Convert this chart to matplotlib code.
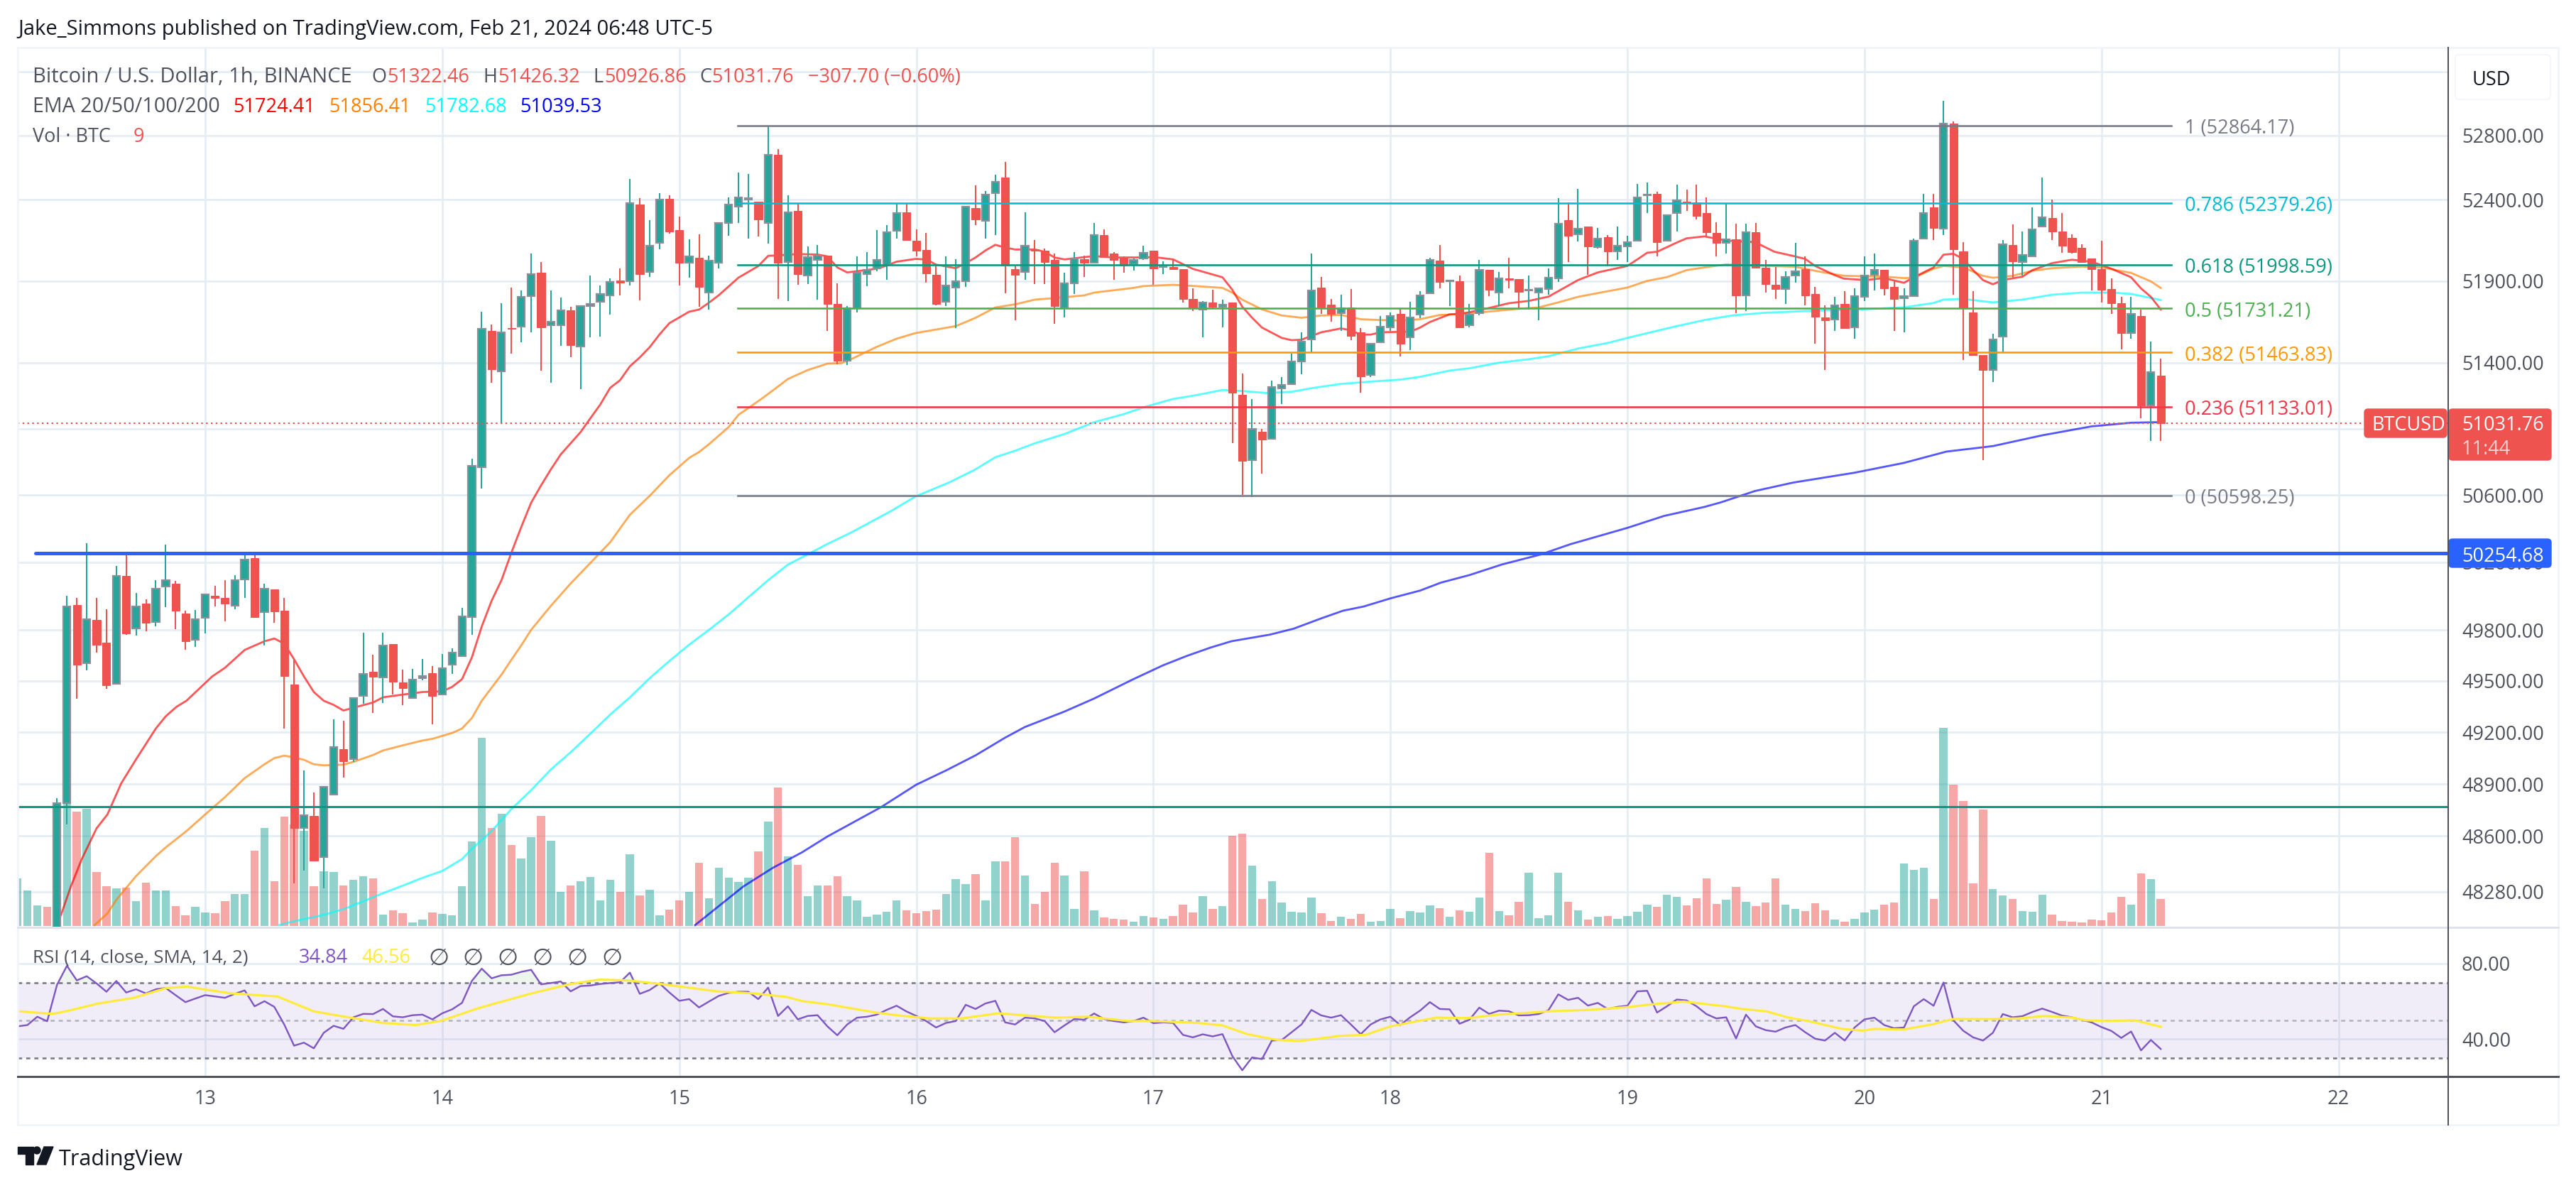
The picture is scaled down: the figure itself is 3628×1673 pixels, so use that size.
import numpy as np
import matplotlib
matplotlib.use('Agg')
import matplotlib.pyplot as plt
from matplotlib.patches import FancyBboxPatch, Polygon, Circle, Rectangle
from matplotlib.ticker import NullLocator

plt.rcParams['font.family'] = ['Open Sans', 'DejaVu Sans']

# hours counted from Feb 13 00:00, first candle is Feb 12 05:00
first_hour = -19
opens = [47300,47420,47530,47750,47700,48790,49948,49603,49857,49725,49482,50118,49808,49956,49847,50056,50072,49895,49741,
 49870,50000,49990,49942,50098,50225,49904,50040,49914,49477,48646,48716,48477,48838,49100,49046,49412,49553,49520,49716,49492,49400,49516,49544,
 49422,49595,49646,49876,50768,51595,51347,51611,51620,51807,51950,51627,51630,51720,51500,51747,51770,51810,51902,51897,52372,51955,52135,52407,
 52213,52010,52040,51828,52010,52258,52360,52400,52387,52258,52680,52015,52330,51932,52030,52057,51760,51410,51734,51942,51975,51997,52209,52324,
 52148,52090,51936,51773,51859,51897,52351,52270,52442,52539,51971,51955,52095,52088,52028,51734,51883,52032,52013,52183,52067,52044,52001,52036,
 52084,51986,51987,51971,51790,51725,51768,51742,51768,51204,50811,50983,50938,51245,51269,51409,51540,51859,51754,51700,51737,51585,51325,51525,
 51616,51698,51554,51695,51825,52025,51897,51897,51628,51703,51970,51828,51915,51910,51840,51828,51850,51917,52275,52188,52235,52108,52169,52082,
 52113,52146,52430,52438,52146,52317,52391,52386,52317,52197,52136,52157,51811,52200,51980,51878,51852,51931,51973,51820,51676,51662,51757,51615,
 51802,51936,51970,51862,51793,51807,52162,52353,52223,52877,52080,51705,51447,51355,51557,52122,52014,52049,52233,52289,52204,52165,52103,52039,
 51973,51850,51763,51582,51683,51140,51322.46]
highs = [47480,47560,47700,47780,48820,50000,49990,50315,49990,49920,50178,50240,50020,49980,50095,50305,50090,49915,49918,
 50009,50060,50095,50125,50260,50240,50072,50040,49990,49627,48980,48850,48882,49275,49268,49400,49785,49655,49785,49716,49568,49572,49630,49587,
 49658,49690,49930,50818,51712,51634,51765,51860,51843,52070,52017,51843,51797,51743,51747,51935,51873,51916,51975,52530,52412,52275,52442,52428,
 52296,52157,52185,52055,52258,52415,52568,52560,52387,52862,52717,52430,52377,52110,52120,52057,51885,51745,52053,52075,52212,52242,52377,52377,
 52218,52197,52004,52053,52032,52357,52492,52455,52556,52634,51997,52325,52150,52100,52070,51952,52079,52056,52259,52218,52079,52053,52039,52118,
 52084,52022,52032,51971,51853,51777,51845,51785,51768,51335,51180,51000,51290,51312,51455,51583,52070,51926,51790,51814,51849,51610,51517,51683,
 51708,51729,51771,51837,52044,52122,51903,51935,51760,52027,51970,51953,52044,51910,51935,51854,51975,52409,52386,52466,52235,52226,52183,52235,
 52180,52500,52508,52452,52306,52494,52464,52495,52417,52261,52379,52252,52251,52258,52027,51984,51960,52134,52053,51862,51751,51802,51837,51854,
 52053,52070,51970,51905,51854,52162,52438,52438,53018,52890,52137,51837,51447,51578,52150,52247,52205,52352,52540,52400,52317,52186,52125,52039,
 52148,51917,51802,51802,51722,51530,51426.32]
lows = [47250,47380,47500,47600,47650,48665,49395,49562,49668,49455,49480,49770,49766,49790,49822,49936,49806,49684,49700,
 49780,49940,49850,49920,49990,49877,49710,49843,49220,48327,48403,48454,48300,48838,48938,49026,49368,49314,49370,49420,49360,49400,49505,49248,
 49422,49540,49646,49770,50640,51278,51030,51455,51525,51587,51352,51278,51502,51432,51240,51556,51560,51692,51810,51870,51780,51925,52095,52190,
 51874,51920,51740,51724,51975,52180,52258,52160,52175,52130,51787,51775,51878,51880,51783,51595,51390,51385,51708,51866,51957,51905,52160,52153,
 52053,51888,51751,51746,51611,51862,52244,52162,52183,51825,51660,51905,51880,51880,51638,51678,51820,51926,52013,52047,51908,51952,51962,52030,
 51876,51940,51971,51766,51715,51554,51732,51614,50912,50600,50590,50730,50938,51147,51269,51328,51463,51698,51648,51592,51537,51216,51312,51525,
 51592,51438,51477,51670,51825,51854,51746,51614,51617,51691,51806,51746,51854,51722,51725,51660,51816,51893,52018,52143,51936,52100,51990,52027,
 52014,52146,52317,52053,52146,52205,52330,52280,52174,52053,52070,51700,51713,51980,51828,51790,51760,51888,51751,51515,51356,51595,51613,51545,
 51776,51840,51811,51593,51585,51807,52162,52153,52183,51816,51417,51445,50810,51283,51463,51914,51935,52049,52233,52153,52073,52067,52018,51840,
 51768,51698,51480,51545,51065,50925,50926.86]
closes = [47420,47530,47680,47650,48790,49940,49597,49865,49711,49476,50120,49780,49940,49840,50045,50092,49915,49735,49865,
 50009,49990,49955,50092,50218,49877,50042,49907,49530,48646,48720,48458,48882,49114,49030,49400,49540,49525,49708,49494,49460,49508,49530,49412,
 49573,49666,49880,50776,51607,51358,51587,51606,51804,51941,51614,51650,51720,51507,51747,51760,51818,51894,51890,52380,51940,52118,52402,52205,
 52010,52050,51862,52025,52258,52372,52414,52412,52278,52680,52010,52322,51940,52045,52057,51760,51410,51732,51952,51970,52027,52198,52317,52153,
 52087,51945,51757,51874,51897,52357,52278,52435,52514,51995,51936,52117,52087,52018,51746,51886,52036,52011,52183,52047,52027,51994,52027,52073,
 51975,51991,51971,51790,51732,51766,51741,51756,51216,50808,51000,50934,51252,51264,51407,51527,51842,51739,51698,51734,51563,51316,51517,51620,
 51684,51515,51674,51813,52028,51892,51903,51614,51695,51966,51845,51914,51908,51832,51845,51854,51920,52251,52178,52221,52112,52160,52080,52115,
 52139,52414,52433,52138,52306,52396,52386,52301,52198,52134,52157,51811,52202,51980,51880,51848,51926,51957,51811,51680,51660,51751,51613,51805,
 51931,51970,51854,51788,51805,52148,52317,52227,52877,52095,51731,51445,51355,51540,52126,52022,52060,52216,52292,52205,52117,52079,52018,51971,
 51845,51765,51580,51698,51140,51343,51031.76]
volumes = [183,137,79,74,100,476,440,452,208,153,145,148,96,167,137,137,76,41,74,
 52,49,96,123,123,290,377,172,421,390,366,153,210,208,156,178,191,183,44,60,50,13,24,52,
 46,41,153,325,725,377,431,312,260,342,424,328,131,156,172,189,98,178,131,276,117,139,41,63,
 98,131,243,106,224,186,169,186,287,402,533,268,235,115,156,156,191,115,98,35,44,55,98,60,
 49,57,63,123,180,161,200,98,249,249,342,194,85,131,243,194,65,210,60,33,27,24,16,38,
 33,27,38,82,52,115,65,76,347,356,232,103,172,90,54,52,109,49,19,35,27,46,16,19,
 65,30,57,52,79,68,35,60,54,109,282,57,41,93,205,30,41,205,93,60,24,35,38,27,
 38,54,82,74,120,112,79,106,183,85,101,150,93,76,90,183,82,65,57,87,60,24,16,27,
 52,63,82,90,241,216,224,104,763,544,481,164,449,142,117,104,57,54,120,44,19,16,13,24,
 22,52,112,82,202,180,104]

ema20_t = [-14.6,-13.6,-12.5,-11,-9.9,-8.5,-7,-5,-4,-2.9,-1.9,0.7,2,4,6,7,8,9,10,11,12,13,14,15,17,18,20,22,24,25,26,27,28,29,30,31,32,33,34,35,36,38,39,40,41,42,43,44,45,46,47,49,50,51,52,53,54,56,57,58,60,62,63,64,65,67.9,68.9,70,71.9,73,74,76,77,78,79,80,81,82,84,85,86,87,88,90,92,95,96,98,100,103,104,105,106,107,109,110,111,112,113,115,116,117,118,119,121,122,123,124,126,127,128,130,132,134,136,137,139,141,144,145,146,147,149,150,151.8,154,156.9,158.9,160.8,162,163,165,165.9,168.1,170,172,173,175,176,177,178,179,180,181,182,184,185,187,189,191,193,195,196,197,198]
ema20 = [48148,48311,48467,48644,48724,48904,49043,49222,49293,49349,49384,49526,49577,49682,49733,49749,49719,49627,49526,49435,49384,49360,49327,49343,49374,49404,49420,49435,49439,49465,49510,49638,49820,49972,50094,50257,50410,50555,50658,50755,50845,50979,51063,51146,51247,51293,51378,51432,51494,51572,51641,51711,51724,51766,51812,51866,51920,51991,52054,52057,52065,52062,52051,51983,51952,51974,51992,52018,52035,52032,52000,51978,52009,52044,52087,52122,52105,52093,52093,52079,52044,52032,52039,52053,52044,52044,52047,52032,51974,51922,51845,51742,51674,51614,51551,51537,51540,51563,51585,51609,51597,51571,51571,51585,51588,51588,51614,51648,51695,51698,51708,51734,51763,51777,51803,51837,51905,51952,51992,52032,52073,52079,52136,52162,52174,52148,52139,52079,52053,52035,51992,51935,51914,51905,51917,51888,51922,51983,52061,52067,52035,51966,51905,51879,51905,51926,51966,52009,52030,52018,51975,51922,51854,51802,51724.41]
ema50_t = [-11.2,-9.9,-9,-8,-7,-5,-4,-1.9,0,2,4,6,7,8,9,10,11,12,14,15,17,18,20,22,23,25,26,27,28,30,31,32,33,35,37,39,41,43,45,47,49,50,51,53,54,55,56.5,58,59,61,63,64.4,65.4,67.9,70,71.9,74,76,77,78,80,82,84,86,89,90,94,95,98,100,103,104,105,107,109,111,113,115,117,119,121,123,125,127,130,133,135,137,139,141,144,146,148,150,151.8,154,156,158,161,163,165,166,170,172,173,175,176,178,179,180,181,183,185,187,190,192,195,197,198]
ema50 = [48090,48157,48234,48302,48370,48484,48534,48628,48724,48824,48934,49014,49050,49064,49054,49040,49014,49008,49012,49028,49068,49094,49124,49152,49162,49196,49222,49283,49384,49537,49624,49709,49800,49942,50074,50196,50319,50483,50596,50720,50824,50859,50906,51010,51084,51125,51188,51255,51301,51355,51394,51397,51421,51494,51546,51580,51602,51623,51648,51674,51737,51756,51785,51794,51811,51828,51857,51868,51876,51869,51857,51828,51785,51725,51688,51674,51688,51691,51665,51660,51657,51665,51691,51695,51712,51729,51737,51768,51802,51825,51859,51900,51923,51966,51983,52001,51996,51992,51987,51962,51940,51931,51926,51917,51919,51975,51992,51983,51957,51931,51919,51931,51962,51978,51988,51983,51949,51897,51856.41]
ema100_t = [7.5,8.4,10,12,14,16,18,20,22,24,26,27,29,31,33,35,37,39,41,43,45,47,49,51,53,55,57,59,61,63,65.4,69.4,71.9,75.3,77.9,80,82,84,87,90,93,95,98,100,103,105,107.4,110,112,115,118,121,123,126,128,131,134,136,139,142,144,146,149,151.8,154.6,158,163,168,172,174.9,176,178,181,184,187,190,193,195,198]
ema100 = [48090,48104,48124,48148,48181,48226,48272,48315,48360,48399,48467,48526,48628,48755,48864,48984,49084,49192,49303,49404,49516,49617,49713,49800,49891,49993,50094,50186,50247,50309,50377,50504,50592,50676,50752,50828,50867,50912,50968,51039,51088,51129,51180,51199,51234,51228,51216,51223,51245,51271,51285,51297,51314,51352,51366,51400,51421,51439,51486,51520,51551,51580,51623,51660,51688,51705,51717,51726,51738,51763,51785,51789,51768,51785,51815,51828,51828,51820,51782.68]
ema200_t = [49.6,54.5,57.5,60.4,63,68.4,72,75,78,81,83,87,90,94,97,99.4,101.8,103.9,107.8,110.2,113.1,115.2,117.3,120,123,125.1,128,131.3,135.2,138.2,144,147.7,151.8,153.5,156.9,160.8,167,172,176.3,181,186,191,195,198]
ema200 = [48090,48311,48418,48505,48597,48765,48896,48978,49066,49169,49231,49321,49397,49511,49592,49647,49696,49733,49772,49807,49870,49913,49938,49986,50032,50079,50124,50187,50246,50307,50405,50476,50530,50558,50625,50676,50735,50794,50862,50895,50960,51014,51036,51039.53]

rsi_values = [46.8,47.5,51.9,49.5,68.8,78.8,71.1,73.3,69.5,65.1,70.8,64.7,66.4,64.2,66.4,67.1,63.3,59.6,61.5,
 63.3,62.6,61.9,64.0,65.8,57.4,60.1,57.1,47.8,36.6,38.2,35.2,43.4,47.1,45.5,51.6,53.4,53.3,56.0,52.1,51.6,52.7,53.0,50.5,53.7,
 55.8,59.2,70.8,77.3,72.2,73.8,74.1,75.6,76.7,69.0,69.7,70.5,65.3,68.1,68.4,69.2,69.7,70.1,75.2,64.0,66.0,69.5,64.7,60.3,
 61.2,56.8,59.9,62.9,64.5,65.1,65.1,61.2,67.3,52.3,57.4,50.5,52.3,52.7,46.8,42.1,47.8,51.4,51.9,53.0,55.5,57.7,54.7,52.3,
 49.6,46.2,48.6,49.6,58.2,56.0,58.9,60.3,48.9,47.8,51.4,51.0,49.6,43.7,47.3,50.7,50.3,53.6,50.7,49.6,48.9,49.6,51.4,48.5,
 48.9,48.6,42.3,41.0,42.6,41.5,42.7,31.1,23.6,30.4,29.5,39.3,
 39.6,43.7,47.8,55.5,52.6,51.4,52.7,47.8,42.7,47.8,50.5,51.9,47.5,51.6,55.1,59.6,56.0,55.8,48.2,50.3,56.7,53.4,55.1,54.8,
 52.6,52.7,53.3,55.3,63.7,60.8,61.9,57.8,59.2,56.0,57.1,57.7,65.3,65.6,54.1,57.4,61.0,60.5,57.4,53.3,51.0,51.6,40.4,53.0,
 46.8,44.8,44.0,46.2,47.5,43.7,40.3,39.3,43.4,39.3,46.2,50.5,51.4,47.5,45.8,46.2,57.4,61.2,57.7,70.0,50.0,44.5,41.0,39.3,
 43.4,53.3,51.6,52.2,54.4,56.2,54.4,52.5,51.6,50.3,48.9,46.4,44.4,40.7,44.1,34.1,39.6,34.84]
rsi_ma_t = [-19,-17,-15.4,-13.8,-10.9,-7.2,-3.9,-1.8,0.3,2.7,7.3,8.9,11,14.7,18,21.3,23.8,27.9,32.9,37,39.9,42.8,46.1,51.8,55.6,58.9,60.5,63,67.9,70,73.3,76.6,80.3,86.1,89.4,93.5,96,100.5,103,105.5,108.6,110.8,114.9,117.5,120,124.6,127.9,130.9,136.3,140.1,144.3,146,149.7,153.9,155.6,158.1,160.2,162.3,165.7,167.8,169,171.9,174.9,177,180.8,183.7,186.2,189.1,190.4,192.5,195.4,198]
rsi_ma = [54.8,54.0,53.4,55.1,58.8,61.9,67.1,67.8,66.0,64.2,62.6,59.2,54.7,51.4,48.6,47.5,49.6,56.8,64.0,69.2,71.5,71.1,69.2,65.3,64.2,62.3,60.1,58.5,54.1,52.7,51.0,51.0,53.7,51.4,51.9,49.6,49.6,48.6,47.3,42.7,39.6,39.0,41.8,42.3,46.8,51.4,51.2,53.0,54.8,55.5,57.1,58.2,59.9,57.4,56.0,54.7,51.6,49.6,45.5,44.5,45.5,45.1,47.9,50.7,50.7,51.0,52.3,51.4,50.0,49.6,50.0,46.56]

fib_levels = ['1','0.786','0.618','0.5','0.382','0.236','0']
fib_prices = [52864.17,52379.26,51998.59,51731.21,51463.83,51133.01,50598.25]
fib_colors = ['#787B86','#00BCD4','#089981','#4CAF50','#FF9800','#F23645','#787B86']
price_ticks = [53200,52800,52400,51900,51400,51000,50600,50200,49800,49500,49200,48900,48600,48280]
hidden_ticks = [53200,51000]  # covered by the USD box and the price tag
day_labels = ['13','14','15','16','17','18','19','20','21','22']
day_hours = [0,24,48,72,96,120,144,168,192,216]
last_close = 51031.76
level_blue = 50254.68
level_green = 48770
rsi_bands = [70,50,30]

GREEN = '#26A69A'
RED = '#EF5350'
GRID = '#E4EDF3'
TEXT = '#50535E'
FS = 19.5
W, H = 3628, 1673
px = 0.72  # one pixel in points at dpi 100

# pane geometry in pixels
LEFT, RIGHT, PANE_TOP, PANE_MID, PANE_BOT = 25, 3448, 67, 1306, 1516
HOUR_PX = 13.91
xlim = ((LEFT - 289) / HOUR_PX, (RIGHT - 289) / HOUR_PX)
vol_lim = (-5.5, 3384)

def pane(y0, y1, z=1):
    a = fig.add_axes([LEFT / W, 1 - y1 / H, (RIGHT - LEFT) / W, (y1 - y0) / H], zorder=z)
    a.set_xlim(xlim)
    a.patch.set_alpha(0)
    return a

def label(x, y, s, color=TEXT, size=FS, **kw):
    return ov.text(x, y, s, color=color, fontsize=size, va='center_baseline', **kw)

fig = plt.figure(figsize=(W / 100, H / 100), dpi=100, facecolor='white')

hours = np.arange(len(opens)) + first_hour
o, h, l, c = map(np.array, (opens, highs, lows, closes))
up = c >= o
top, bot = np.maximum(o, c), np.minimum(o, c)

# bottom layer: grid and price axis
ax = pane(PANE_TOP, PANE_MID, 1)
ax.set_yscale('log')
ax.set_ylim(48077, 53353)
ax.set_yticks(price_ticks)
ax.set_yticklabels(['' if p in hidden_ticks else f'{p:.2f}' for p in price_ticks])
ax.yaxis.set_minor_locator(NullLocator())
ax.yaxis.tick_right()
ax.tick_params(axis='y', which='major', length=0, pad=19 * px, labelsize=FS, labelcolor=TEXT)
ax.set_xticks(day_hours)
ax.tick_params(axis='x', length=0, labelbottom=False)
ax.grid(True, color=GRID, linewidth=2.6 * px)
ax.set_axisbelow(True)
for s in ax.spines.values():
    s.set_visible(False)

# volume layer
ax_vol = pane(PANE_TOP, PANE_MID, 2)
ax_vol.set_ylim(vol_lim)
ax_vol.axis('off')
ax_vol.bar(hours, volumes, width=0.82, color=[GREEN if u else RED for u in up], alpha=0.5, linewidth=0)

# candles and indicators
ax_top = pane(PANE_TOP, PANE_MID, 3)
ax_top.set_yscale('log')
ax_top.set_ylim(ax.get_ylim())
ax_top.axis('off')
for xs, ys, col in ((ema200_t, ema200, '#0000FF'), (ema100_t, ema100, '#00FFFF'),
                    (ema50_t, ema50, '#FF7F00'), (ema20_t, ema20, '#FF0000')):
    ax_top.plot(xs, ys, color=col, alpha=0.66, linewidth=2.8 * px, zorder=2)
ax_top.vlines(hours, l, h, colors=[GREEN if u else RED for u in up], linewidth=2 * px, zorder=3)
ax_top.bar(hours[up], (top - bot)[up], bottom=bot[up], width=0.74, color=GREEN,
           edgecolor='#8B9098', linewidth=2.2 * px, zorder=4)
ax_top.bar(hours[~up], (top - bot)[~up], bottom=bot[~up], width=0.8, color=RED,
           edgecolor=RED, linewidth=1 * px, zorder=4)
ax_top.axhline(last_close, color=RED, linestyle=(0, (1.2, 2.2)), linewidth=2 * px, zorder=5)
ax_top.axhline(level_green, color='#089981', linewidth=3 * px, zorder=5)
ax_top.plot([(50 - 289) / HOUR_PX, xlim[1]], [level_blue, level_blue], color='#2962FF',
            linewidth=5 * px, solid_capstyle='round', zorder=5)
for p, col in zip(fib_prices, fib_colors):
    ax_top.plot([53.9, 199.1], [p, p], color=col, linewidth=2.6 * px, zorder=5)

# RSI pane
ax_rsi = pane(PANE_MID, PANE_BOT, 1)
ax_rsi.set_ylim(20.3, 99.1)
ax_rsi.set_yticks([40, 80])
ax_rsi.set_yticklabels(['40.00', '80.00'])
ax_rsi.yaxis.tick_right()
ax_rsi.tick_params(axis='y', length=0, pad=19 * px, labelsize=FS, labelcolor=TEXT)
ax_rsi.set_xticks(day_hours)
ax_rsi.set_xticklabels(day_labels)
ax_rsi.tick_params(axis='x', length=0, pad=18 * px, labelsize=FS, labelcolor=TEXT)
ax_rsi.grid(True, color=GRID, linewidth=2.6 * px)
ax_rsi.set_axisbelow(True)
for s in ax_rsi.spines.values():
    s.set_visible(False)
ax_rsi.axhspan(rsi_bands[2], rsi_bands[0], color='#7E57C2', alpha=0.1, linewidth=0)
for b, col in zip(rsi_bands, ('#787B86', '#B2B5BE', '#787B86')):
    ax_rsi.axhline(b, color=col, linestyle=(0, (2.2, 2.2)), linewidth=2.6 * px)
rsi_hours = np.arange(len(rsi_values)) + first_hour
rsi_arr = np.array(rsi_values)
ax_rsi.fill_between(rsi_hours, 70, rsi_arr, where=rsi_arr > 70, interpolate=True,
                    color='#4CAF50', alpha=0.1, linewidth=0)
ax_rsi.plot(rsi_hours, rsi_values, color='#7E57C2', linewidth=2.4 * px)
ax_rsi.plot(rsi_ma_t, rsi_ma, color='#FFEB3B', linewidth=3.2 * px)

# overlay in pixels for frame, legends and price tags
ov = fig.add_axes([0, 0, 1, 1], zorder=10)
ov.set_xlim(0, W)
ov.set_ylim(H, 0)
ov.axis('off')
ov.patch.set_alpha(0)

ov.add_patch(Rectangle((LEFT, PANE_TOP), 3603 - LEFT, 1584 - PANE_TOP, fill=False, edgecolor='#F0F3FA', linewidth=2.6 * px))
ov.plot([LEFT, 3603], [PANE_MID, PANE_MID], color='#E0E3EB', linewidth=3 * px)
ov.plot([LEFT, 3603], [PANE_BOT, PANE_BOT], color='#50535E', linewidth=3 * px)
ov.plot([RIGHT, RIGHT], [PANE_TOP, 1584], color='#50535E', linewidth=2 * px)

label(25, 38, 'Jake_Simmons published on TradingView.com, Feb 21, 2024 06:48 UTC-5', color='#131722', size=21)
label(46, 105, 'Bitcoin / U.S. Dollar, 1h, BINANCE', size=21)
for x, s, col in ((523, 'O', TEXT), (545, '51322.46', RED), (680, 'H', TEXT), (701, '51426.32', RED),
                  (835, 'L', TEXT), (851, '50926.86', RED), (985, 'C', TEXT), (1002, '51031.76', RED),
                  (1138, '\u2212307.70 (\u22120.60%)', RED)):
    label(x, 105, s, color=col)
label(46, 147, 'EMA 20/50/100/200', size=20.7)
for x, s, col in ((328, '51724.41', '#FF0000'), (463, '51856.41', '#FF7F00'),
                  (598, '51782.68', '#00FFFF'), (732, '51039.53', '#0000FF')):
    label(x, 147, s, color=col)
label(46, 189, 'Vol \u00b7 BTC')
label(188, 189, '9', color=RED)
label(46, 1346, 'RSI (14, close, SMA, 14, 2)', size=18.7)
label(421, 1346, '34.84', color='#7E57C2')
label(509, 1346, '46.56', color='#FFEB3B')
for x in (603, 651, 700, 749, 798, 847):
    label(x, 1346, '\u2205', size=24)

for lev, p, col, y in zip(fib_levels, fib_prices, fib_colors, (177, 286, 373, 435, 497, 574, 698)):
    label(3077, y, f'{lev} ({p:.2f})', color=col)

def tag(x0, y0, x1, y1, col, edge=None):
    ov.add_patch(FancyBboxPatch((x0 + 4, y0 + 4), x1 - x0 - 8, y1 - y0 - 8, boxstyle='round,pad=4,rounding_size=5',
                                facecolor=col, edgecolor=edge or col, linewidth=1))

tag(3330, 576, 3446, 616, RED)
label(3340, 596, 'BTCUSD', color='white')
tag(3449, 576, 3593, 648, RED)
label(3467, 596, f'{last_close:.2f}', color='white')
label(3467, 629, '11:44', color='#FBD0CF')
tag(3449, 759, 3593, 799, '#2962FF')
label(3467, 780, f'{level_blue:.2f}', color='white')
tag(3458, 77, 3592, 140, 'white', '#F0F3FA')
label(3482, 109, 'USD', color='#131722')

# logo
LOGO = '#131722'
ov.add_patch(Polygon([(25, 1615), (47, 1615), (47, 1640), (36, 1640), (36, 1625), (25, 1625)], color=LOGO))
ov.add_patch(Circle((52, 1620), 5, color=LOGO))
ov.add_patch(Polygon([(62, 1615), (75, 1615), (65, 1640), (52, 1640)], color=LOGO))
label(83, 1630, 'TradingView', color='#131722', size=22)

fig.savefig('out.png', dpi=100, facecolor='white')
